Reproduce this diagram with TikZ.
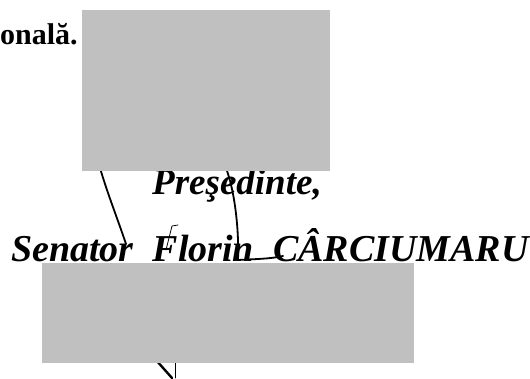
\documentclass[tikz,border=0pt]{standalone}
\usepackage{fontspec}
\setmainfont{Liberation Serif}
\definecolor{redact}{RGB}{192,192,192}
\begin{document}
\begin{tikzpicture}[x=1pt,y=-1pt,
    redaction/.style={fill=redact,draw=none,inner sep=0pt,anchor=north west},
    ink/.style={line width=1.8pt,line cap=round},
    thinink/.style={line width=0.8pt,line cap=round},
    line/.style={anchor=base west,inner sep=0pt}]
  \useasboundingbox (0,0) rectangle (530,378);
  % text
  \node[line,font=\fontsize{30}{30}\selectfont\bfseries] (tail) at (0,44) {onală.};
  \node[line,font=\fontsize{37}{37}\selectfont\bfseries\itshape] (title) at (152,194) {Preşedinte,};
  \node[line,font=\fontsize{38}{38}\selectfont\bfseries\itshape] (name) at (11,261) {Senator\ \ Florin\ \ CÂRCIUMARU};
  % signature
  \draw[ink] (100,168) .. controls (108,195) and (118,220) .. (126,244);
  \draw[ink] (226,168) .. controls (236,195) and (239,235) .. (238,260) .. controls (255,259) and (270,259) .. (283,256);
  \draw[thinink] (178,225) -- (172,226) -- (166,250);
  \draw[ink,line width=2.4pt] (156,360) -- (172,378);
  \draw[thinink] (175,360) -- (175,378);
  % redactions
  \node[redaction,minimum width=248pt,minimum height=161pt] (upper) at (82,10) {};
  \node[redaction,minimum width=372pt,minimum height=100pt] (lower) at (42,263) {};
\end{tikzpicture}
\end{document}
